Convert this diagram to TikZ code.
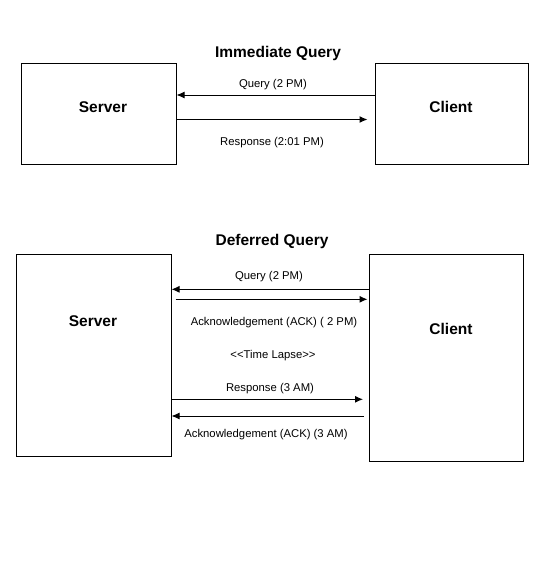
\documentclass[tikz,border=0pt]{standalone}
\usepackage{fontspec}
\setmainfont{Liberation Sans}
\usetikzlibrary{arrows.meta}
\begin{document}
\begin{tikzpicture}[x=1pt,y=1pt,
  box/.style={draw=black,line width=1pt,inner sep=0pt},
  msg/.style={line width=1pt,-{Latex[length=8pt,width=7pt]}},
  title/.style={font=\fontsize{15.5}{18}\selectfont\bfseries},
  party/.style={font=\fontsize{15.5}{18}\selectfont\bfseries},
  lbl/.style={font=\fontsize{11.3}{13}\selectfont}]
  \tikzstyle{every node}+=[inner sep=0pt]
  \useasboundingbox (0,0) rectangle (549,-573);
  \fill[white] (0,0) rectangle (549,-573);
  \draw (278,-53) node[title] (tim) {Immediate Query};
  \node[box,minimum width=155pt,minimum height=101pt] (srv1) at (98.5,-113.5) {};
  \node[box,minimum width=153pt,minimum height=101pt] (cli1) at (451.5,-113.5) {};
  \draw (103,-107) node[party] (srvtxt1) {Server};
  \draw (451,-107) node[party] (clitxt1) {Client};
  \draw [msg] (cli1.west |- 0,-95) -- (srv1.east |- 0,-95);
  \draw (273,-85) node[lbl] (qry1) {Query (2 PM)};
  \draw [msg,shorten >=7pt] (srv1.east |- 0,-119.5) -- (cli1.west |- 0,-119.5);
  \draw (272,-143) node[lbl] (rsp1) {Response (2:01 PM)};
  \draw (272,-241) node[title] (tdef) {Deferred Query};
  \node[box,minimum width=155pt,minimum height=202.5pt] (srv2) at (93.5,-355.25) {};
  \node[box,minimum width=154pt,minimum height=207.5pt] (cli2) at (446.5,-357.75) {};
  \draw (93,-321) node[party] (srvtxt2) {Server};
  \draw (451,-329) node[party] (clitxt2) {Client};
  \draw [msg] (cli2.west |- 0,-289.3) -- (srv2.east |- 0,-289.3);
  \draw (269,-277) node[lbl] (qry2) {Query (2 PM)};
  \draw [msg,shorten <=4pt,shorten >=1.5pt] (srv2.east |- 0,-299.3) -- (cli2.west |- 0,-299.3);
  \draw (274,-323) node[lbl] (ack2) {Acknowledgement (ACK) ( 2 PM)};
  \draw (273,-356) node[lbl] (lapse) {{<}{<}Time Lapse{>}{>}};
  \draw [msg,shorten >=6pt] (srv2.east |- 0,-399.3) -- (cli2.west |- 0,-399.3);
  \draw (270,-389) node[lbl] (rsp2) {Response (3 AM)};
  \draw [msg,shorten <=5pt] (cli2.west |- 0,-416) -- (srv2.east |- 0,-416);
  \draw (266,-435) node[lbl] (ack3) {Acknowledgement (ACK) (3 AM)};
\end{tikzpicture}
\end{document}
